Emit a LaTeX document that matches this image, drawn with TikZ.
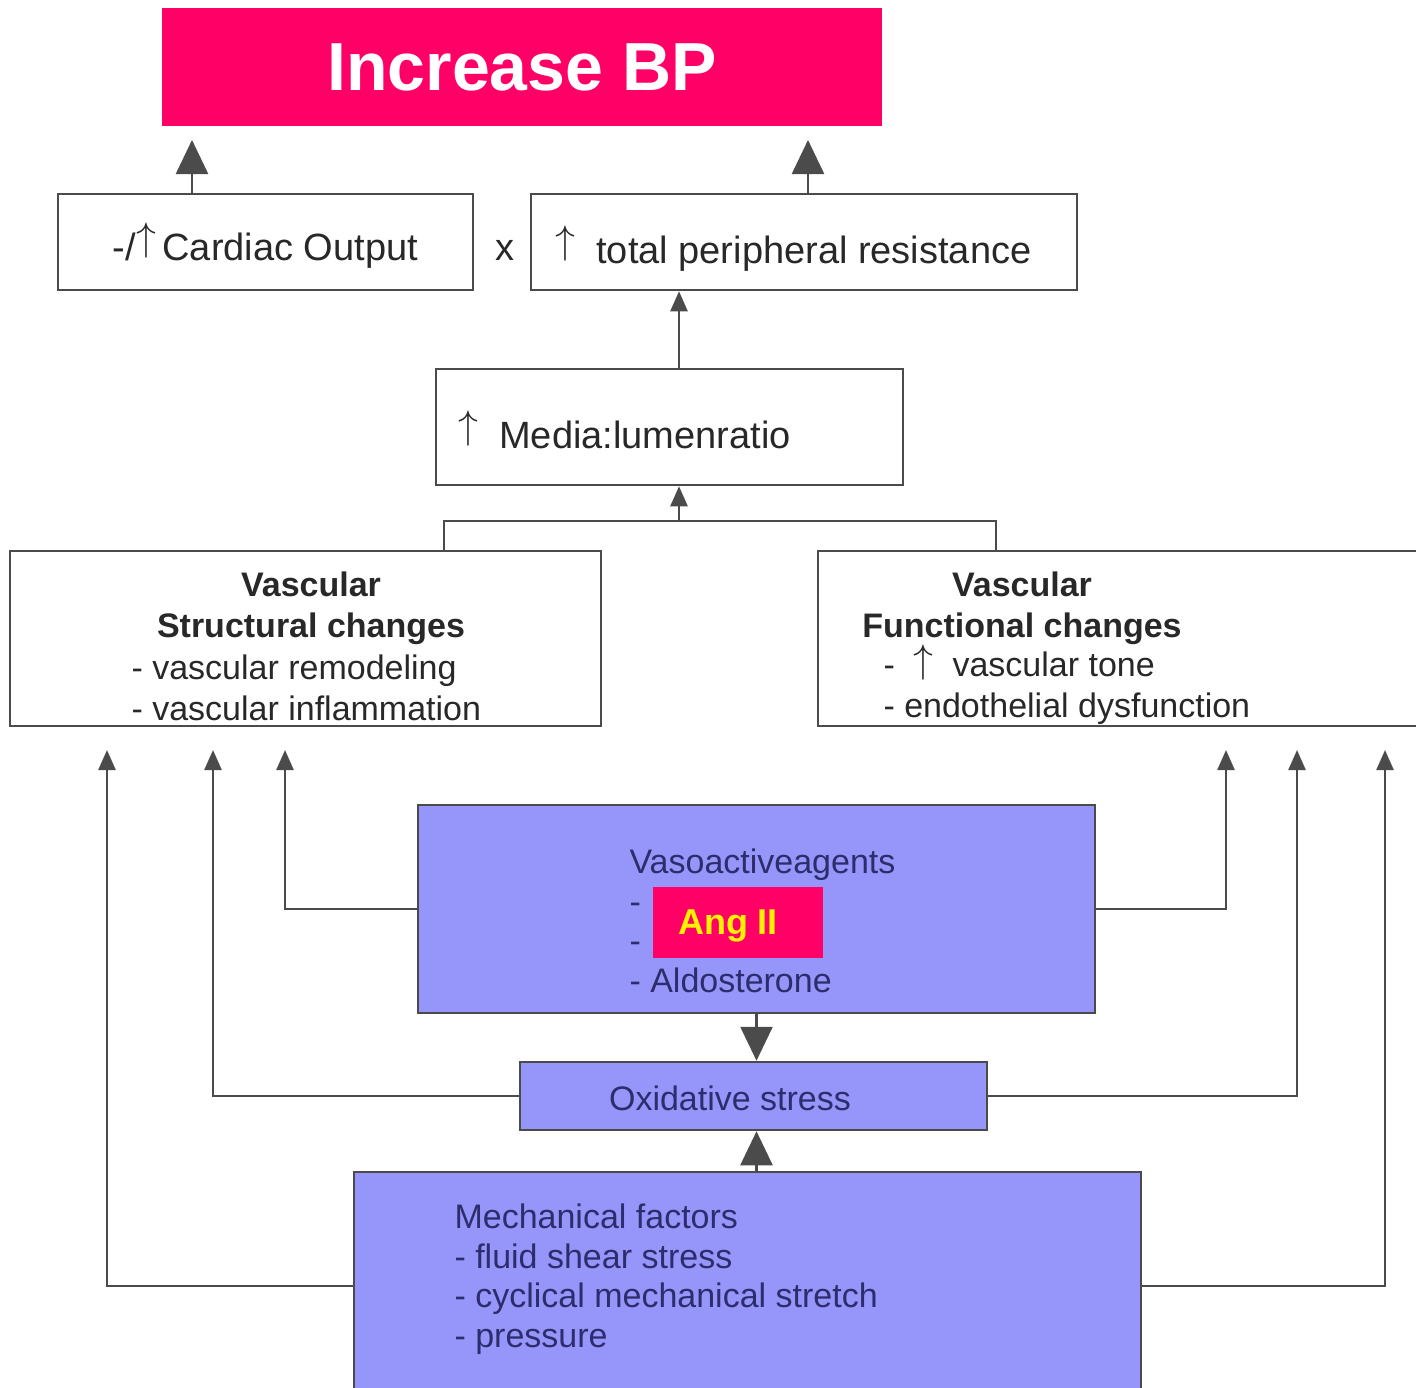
\documentclass[tikz,border=0pt]{standalone}
\usepackage{graphicx}
\usepackage{fontspec}
\setmainfont{Liberation Sans}
\usetikzlibrary{arrows.meta}
\definecolor{bpred}{RGB}{255,0,102}
\definecolor{hatchblue}{RGB}{150,150,250}
\definecolor{boxgray}{RGB}{75,75,75}
\definecolor{inkgray}{RGB}{40,40,40}
\definecolor{inkblue}{RGB}{45,45,110}
\newcommand{\uparr}[1][10pt]{\smash{\raisebox{#1}{\scalebox{1.6}{$\uparrow$}}}}

\begin{document}
\begin{tikzpicture}[x=1pt,y=-1pt,
    box/.style={draw=boxgray,line width=2.5pt,inner sep=0pt},
    bluebox/.style={box,fill=hatchblue},
    link/.style={draw=boxgray,line width=2.5pt,line join=miter},
    bigarrow/.style={link,-{Triangle[width=32pt,length=34pt]}},
    smallarrow/.style={link,-{Triangle[width=17pt,length=20pt]}},
    bigtext/.style={text=inkgray,font=\fontsize{38}{46}\selectfont},
    midtext/.style={text=inkgray,font=\fontsize{34}{41}\selectfont},
    headtext/.style={text=inkgray,font=\fontsize{34}{41}\selectfont\bfseries},
    bluetext/.style={text=inkblue,font=\fontsize{34}{39.5}\selectfont}]
\useasboundingbox (0,0) rectangle (1416,1387);

\node (bp) at (522,67) [fill=bpred,minimum width=720pt,minimum height=118pt,text=white,font=\fontsize{68}{80}\selectfont\bfseries] {Increase BP};

\node (co) at (265.5,242) [box,minimum width=415pt,minimum height=96pt] {};
\node [bigtext,anchor=base] at ([yshift=-18pt]co.center) {-/\uparr\,Cardiac Output};
\node (times) at (505,250) [bigtext] {x};
\node (tpr) at (804,242) [box,minimum width=546pt,minimum height=96pt] {};
\node [bigtext,anchor=base west] at ([xshift=22pt,yshift=-21pt]tpr.west) {\uparr~~total peripheral resistance};

\node (media) at (669.5,427) [box,minimum width=467pt,minimum height=116pt] {};
\node [bigtext,anchor=base west] at ([xshift=20pt,yshift=-21pt]media.west) {\uparr~~Media:lumenratio};

\node (struct) at (305.5,638.5) [box,minimum width=591pt,minimum height=175pt] {};
\node [headtext,align=center] at (311,608) {Vascular\\Structural changes};
\node [midtext,anchor=west,align=left] at (128,688) {- vascular remodeling\\ - vascular inflammation};

\node (func) at (1124,638.5) [box,minimum width=612pt,minimum height=175pt] {};
\node [headtext,align=center] at (1022,608) {Vascular\\Functional changes};
\node [midtext,anchor=west,align=left] at (880,688) {-~~\uparr[4pt]~~vascular tone\\- endothelial dysfunction};

\node (vaso) at (756.5,909) [bluebox,minimum width=677pt,minimum height=208pt] {};
\node [bluetext,anchor=west,align=left] at (626,921) {Vasoactiveagents\\-\\-\\- Aldosterone};
\node (ang) at (738,922.5) [fill=bpred,minimum width=170pt,minimum height=71pt] {};
\node [text=yellow,font=\fontsize{36}{40}\selectfont\bfseries] at ([xshift=-10pt,yshift=-3pt]ang.center) {Ang II};

\node (oxi) at (753.5,1096) [bluebox,minimum width=467pt,minimum height=68pt] {};
\node [bluetext] at (730,1098) {Oxidative stress};

\node (mech) at (747.5,1286) [bluebox,minimum width=787pt,minimum height=228pt] {};
\node [bluetext,anchor=west,align=left] at (451,1279) {Mechanical factors\\- fluid shear stress\\- cyclical mechanical stretch\\- pressure};

\coordinate (tl) at (192,140);
\coordinate (tr) at (808,140);
\coordinate (jl) at (444,521);
\coordinate (jm) at (679,521);
\coordinate (jr) at (996,521);
\coordinate (a1) at (107,750);
\coordinate (a2) at (213,750);
\coordinate (a3) at (285,750);
\coordinate (b1) at (1226,750);
\coordinate (b2) at (1297,750);
\coordinate (b3) at (1385,750);

\draw [bigarrow] (co.north -| tl) -- (tl);
\draw [bigarrow] (tpr.north -| tr) -- (tr);
\draw [smallarrow] (media.north -| jm) -- (tpr.south -| jm);
\draw [link] (struct.north -| jl) -- (jl) -- (jr) -- (func.north -| jr);
\draw [smallarrow] (jm) -- (media.south -| jm);

\draw [smallarrow] (mech.west) -| (a1);
\draw [smallarrow] (oxi.west) -| (a2);
\draw [smallarrow] (vaso.west) -| (a3);
\draw [smallarrow] (vaso.east) -| (b1);
\draw [smallarrow] (oxi.east) -| (b2);
\draw [smallarrow] (mech.east) -| (b3);

\draw [bigarrow] (vaso.south) -- (oxi.north -| vaso.south);
\draw [bigarrow] (mech.north -| vaso.south) -- (oxi.south -| vaso.south);
\end{tikzpicture}
\end{document}
